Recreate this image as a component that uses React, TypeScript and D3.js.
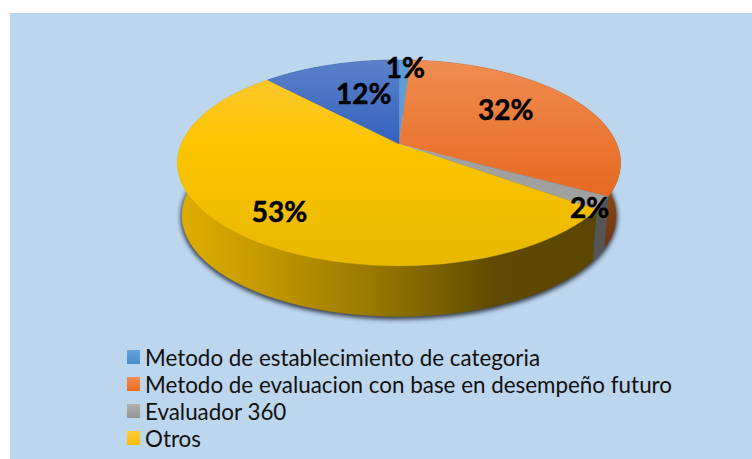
import React from "react";
import * as d3 from "d3";

const sliceNames = [
  "Metodo de establecimiento de categoria",
  "Metodo de evaluacion con base en desempeño futuro",
  "Evaluador 360",
  "Otros",
  "Sin etiqueta",
];
const sliceValues = [1, 32, 2, 53, 12];
const sliceLabels = ["1%", "32%", "2%", "53%", "12%"];
const legendNames = sliceNames.slice(0, 4);
const topColors = [
  ["#5f9fd8", "#5b9bd5"],
  ["#f08c52", "#e5661a"],
  ["#a8a8a8", "#a0a0a0"],
  ["#ffc73a", "#e8b800"],
  ["#5c80c9", "#3362bd"],
];
const legendColors = [
  ["#65a3dc", "#4a8ccb"],
  ["#f58f55", "#ea6a1c"],
  ["#b0b0b0", "#959595"],
  ["#ffcb3c", "#f5bd00"],
];
const labelRadius = [0.9, 0.6, 0.95, 0.75, 0.55];
const labelNudge = [
  [1, 0],
  [-2, -8],
  [-2, 7],
  [1, 5],
  [5, -4],
];

const W = 752;
const H = 459;
const cx = 399;
const cy = 144;
const R = 217.7;
const B = 99.5;
const P = 0.184;
const DEPTH = 53;
const SHRINK = 0.98;

const project = (a: number, r = 1) => {
  const u = Math.sin(a) * r;
  const v = -Math.cos(a) * r;
  const s = 1 / (1 - P * v);
  return [R * u * s, B * v * s];
};
const topPt = (a: number, r = 1): [number, number] => {
  const [x, y] = project(a, r);
  return [cx + x, cy + y];
};
const botPt = (a: number): [number, number] => {
  const [x, y] = project(a);
  return [cx + x * SHRINK, cy + DEPTH + y * SHRINK];
};
const samples = (a0: number, a1: number) =>
  d3.range(0, 61).map((i) => a0 + ((a1 - a0) * i) / 60);

const lineGen = d3.line<[number, number]>().x((d) => d[0]).y((d) => d[1]);
const closed = (pts: [number, number][]) => lineGen(pts) + "Z";

const arcs = d3.pie<number>().sort(null).value((d) => d)(sliceValues);
const TAU = Math.PI * 2;

const sideFill = ["#3f6f9e", "url(#sideOrange)", "#555555", "url(#sideYellow)", "#2a4a8a"];
const yellowStops: [number, string][] = [
  [0, "#e0ae00"],
  [0.2, "#c49a00"],
  [0.45, "#9a7a00"],
  [0.62, "#7a6000"],
  [0.75, "#5e4a00"],
  [1, "#5a4600"],
];

export default function App() {
  const shadowPts: [number, number][] = samples(TAU * 0.2, TAU * 0.85).map((a) => {
    const p = botPt(a);
    return [p[0], p[1] + 1.5] as [number, number];
  });
  return (
    <svg
      width={W}
      height={H}
      style={{ position: "absolute", left: 0, top: 0, display: "block" }}
      viewBox={`0 0 ${W} ${H}`}
    >
      <defs>
        <filter id="blur" x="-10%" y="-10%" width="120%" height="120%">
          <feGaussianBlur stdDeviation="2.2" />
        </filter>
        <linearGradient id="sideYellow" gradientUnits="userSpaceOnUse" x1={177} x2={600} y1={0} y2={0}>
          {yellowStops.map(([o, c]) => (
            <stop key={o} offset={o} stopColor={c} />
          ))}
        </linearGradient>
        <linearGradient id="sideOrange" gradientUnits="userSpaceOnUse" x1={0} x2={0} y1={170} y2={245}>
          <stop offset={0} stopColor="#9a4d14" />
          <stop offset={1} stopColor="#6e3510" />
        </linearGradient>
        {topColors.map((c, i) => (
          <linearGradient key={i} id={`top${i}`} gradientUnits="userSpaceOnUse" x1={0} x2={0} y1={60} y2={i === 3 ? 266 : i === 1 ? 210 : 145}>
            <stop offset={0} stopColor={c[0]} />
            {i === 3 && <stop offset={0.4} stopColor="#fcc500" />}
            <stop offset={1} stopColor={c[1]} />
          </linearGradient>
        ))}
        {legendColors.map((c, i) => (
          <linearGradient key={i} id={`leg${i}`} x1={0} x2={0} y1={0} y2={1}>
            <stop offset={0} stopColor={c[0]} />
            <stop offset={1} stopColor={c[1]} />
          </linearGradient>
        ))}
      </defs>
      <rect x={0} y={0} width={W} height={H} fill="#ffffff" />
      <rect x={10} y={13} width={W - 10} height={H - 13} fill="#bcd6ee" />

      <path
        d={closed(shadowPts)}
        fill="#2c3340"
        stroke="#2c3340"
        strokeWidth={3}
        filter="url(#blur)"
        opacity={0.9}
      />

      {arcs.map((a, i) => {
        const pts = samples(a.startAngle, a.endAngle);
        return (
          <path
            key={i}
            d={closed([...pts.map((t) => topPt(t)), ...pts.slice().reverse().map((t) => botPt(t))])}
            fill={sideFill[i]}
            stroke={sideFill[i]}
            strokeWidth={0.4}
          />
        );
      })}

      {arcs.map((a, i) => (
        <path
          key={i}
          d={closed([[cx, cy], ...samples(a.startAngle, a.endAngle).map((t) => topPt(t))])}
          fill={`url(#top${i})`}
          stroke={`url(#top${i})`}
          strokeWidth={0.3}
        />
      ))}

      {arcs.map((a, i) => {
        const [x, y] = topPt((a.startAngle + a.endAngle) / 2, labelRadius[i]);
        return (
          <text
            key={i}
            x={x + labelNudge[i][0]}
            y={y + labelNudge[i][1]}
            textAnchor="middle"
            dominantBaseline="central"
            fontFamily="Lato, 'Open Sans', sans-serif"
            fontWeight={700}
            fontSize={28}
            fill="#000000"
            stroke="#000000"
            strokeWidth={0.5}
          >
            {sliceLabels[i]}
          </text>
        );
      })}

      {legendNames.map((name, i) => (
        <g key={i} transform={`translate(0, ${357 + i * 27})`}>
          <rect x={127} y={-7} width={13} height={14} fill={`url(#leg${i})`} />
          <text
            x={145}
            y={0}
            dominantBaseline="central"
            fontFamily="Lato, 'Open Sans', sans-serif"
            fontSize={22.4}
            fill="#111111"
          >
            {name}
          </text>
        </g>
      ))}
    </svg>
  );
}
